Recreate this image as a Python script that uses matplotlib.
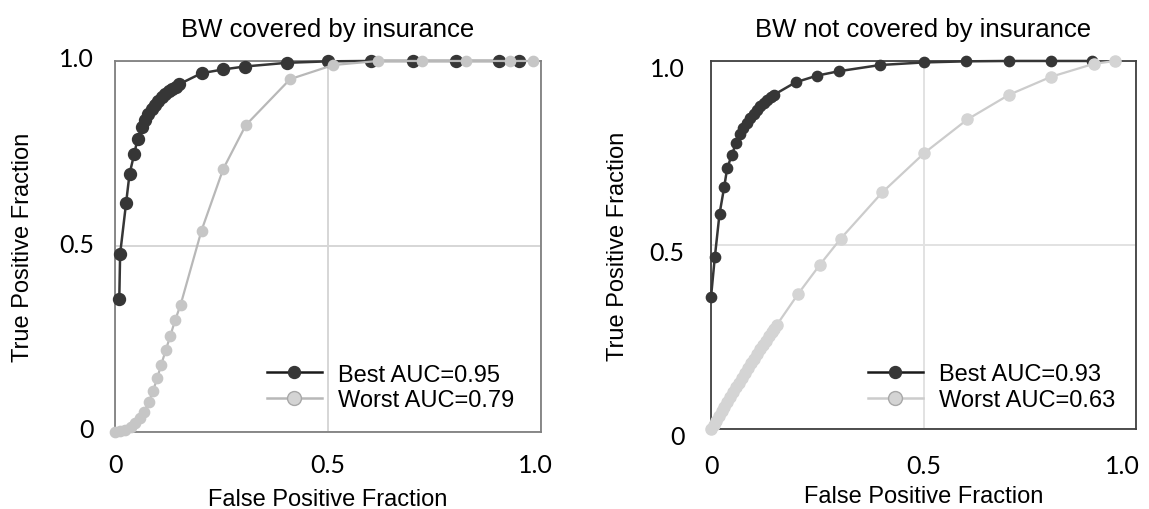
"""ROC curves of the best and worst models, BW covered / not covered by insurance."""

import matplotlib
matplotlib.use("Agg")
import matplotlib.pyplot as plt
import matplotlib.transforms as mtransforms
from matplotlib.lines import Line2D


# ---- data ----
cov_best_fpf = [0.010, 0.012, 0.026, 0.034, 0.045, 0.053, 0.063, 0.070,
                0.078, 0.086, 0.094, 0.102, 0.110, 0.118, 0.126, 0.134,
                0.142, 0.150, 0.203, 0.253, 0.304, 0.403, 0.500, 0.600,
                0.700, 0.800, 0.901, 0.948]
cov_best_tpf = [0.358, 0.480, 0.617, 0.695, 0.749, 0.790, 0.821, 0.842,
                0.857, 0.870, 0.882, 0.893, 0.903, 0.911, 0.918, 0.925,
                0.931, 0.937, 0.967, 0.977, 0.985, 0.995, 0.999, 1.0,
                1.0, 1.0, 1.0, 1.0]
cov_worst_fpf = [0.0, 0.012, 0.024, 0.037, 0.048, 0.058, 0.068, 0.079,
                 0.089, 0.099, 0.108, 0.119, 0.130, 0.141, 0.154, 0.203,
                 0.254, 0.307, 0.411, 0.512, 0.618, 0.721, 0.824, 0.927,
                 0.982]
cov_worst_tpf = [0.0, 0.002, 0.006, 0.013, 0.024, 0.038, 0.055, 0.080,
                 0.110, 0.145, 0.180, 0.220, 0.260, 0.301, 0.343, 0.543,
                 0.709, 0.827, 0.951, 0.989, 1.0, 1.0, 1.0, 1.0, 1.0]

unc_best_fpf = [0.0, 0.009, 0.020, 0.031, 0.038, 0.049, 0.059, 0.068,
                0.076, 0.084, 0.092, 0.100, 0.108, 0.116, 0.124, 0.132,
                0.140, 0.148, 0.199, 0.249, 0.300, 0.398, 0.500, 0.600,
                0.701, 0.800, 0.897]
unc_best_tpf = [0.358, 0.467, 0.584, 0.657, 0.708, 0.745, 0.777, 0.802,
                0.818, 0.832, 0.845, 0.857, 0.868, 0.878, 0.887, 0.895,
                0.902, 0.908, 0.942, 0.960, 0.972, 0.989, 0.996, 0.999,
                1.0, 1.0, 1.0]
unc_worst_fpf = [0.000, 0.006, 0.012, 0.018, 0.025, 0.031, 0.038, 0.045,
                 0.052, 0.059, 0.066, 0.073, 0.080, 0.087, 0.094, 0.101,
                 0.108, 0.115, 0.122, 0.129, 0.136, 0.143, 0.149, 0.155,
                 0.205, 0.256, 0.305, 0.403, 0.502, 0.603, 0.701, 0.800,
                 0.900, 0.951]
unc_worst_tpf = [0.000, 0.010, 0.022, 0.035, 0.048, 0.061, 0.074, 0.087,
                 0.100, 0.113, 0.126, 0.139, 0.152, 0.165, 0.178, 0.191,
                 0.204, 0.216, 0.228, 0.240, 0.252, 0.263, 0.273, 0.283,
                 0.367, 0.446, 0.517, 0.643, 0.750, 0.841, 0.908, 0.957,
                 0.992, 1.0]

titles = ["BW covered by insurance", "BW not covered by insurance"]
best_labels = ["Best AUC=0.95", "Best AUC=0.93"]
worst_labels = ["Worst AUC=0.79", "Worst AUC=0.63"]
tick_values = [0, 0.5, 1.0]
tick_labels = ["0", "0.5", "1.0"]

LABEL_FONT = "Liberation Sans"
TICK_FONT = "Lato"
DARK = "#363636"

# per-panel styling: axes rect, frame colour, grid colour, worst colours, offsets
panels = [
    dict(rect=[0.1001, 0.1510, 0.3708, 0.7275], frame="#808080",
         grid="#d6d6d6", worst_line="#b8b8b8", worst_face="#c6c6c6",
         best_ms=8.6, worst_ms=7.4, ytick_dy=4, ypad=15, xpad=15,
         last_dx=-6, ylabelpad=18, xlabelpad=9,
         leg_anchor=(0.356, 0.120)),
    dict(rect=[0.6188, 0.1569, 0.3699, 0.7216], frame="#404040",
         grid="#e2e2e2", worst_line="#cccccc", worst_face="#d4d4d4",
         best_ms=7.4, worst_ms=8.0, ytick_dy=-6, ypad=19, xpad=18,
         last_dx=-14, ylabelpad=15, xlabelpad=6,
         leg_anchor=(0.369, 0.114)),
]
curves = [
    (cov_best_fpf, cov_best_tpf, cov_worst_fpf, cov_worst_tpf),
    (unc_best_fpf, unc_best_tpf, unc_worst_fpf, unc_worst_tpf),
]

fig = plt.figure(figsize=(11.49, 5.10), dpi=100)

for i, (cfg, (bx, by, wx, wy)) in enumerate(zip(panels, curves)):
    ax = fig.add_axes(cfg["rect"])
    ax.plot(bx, by, "-o", color=DARK, lw=1.8, ms=cfg["best_ms"],
            mfc=DARK, mec=DARK, clip_on=False, zorder=3)
    ax.plot(wx, wy, "-o", color=cfg["worst_line"], lw=1.6,
            ms=cfg["worst_ms"], mfc=cfg["worst_face"],
            mec=cfg["worst_face"], clip_on=False, zorder=4)

    ax.set_xlim(0, 1)
    ax.set_ylim(0, 1)
    ax.set_xticks(tick_values)
    ax.set_yticks(tick_values)
    ax.set_xticklabels(tick_labels, fontfamily=TICK_FONT, fontsize=18)
    ax.set_yticklabels(tick_labels, fontfamily=TICK_FONT, fontsize=18)
    ax.tick_params(length=0, pad=cfg["ypad"], axis="y")
    ax.tick_params(length=0, pad=cfg["xpad"], axis="x")
    offset = mtransforms.ScaledTranslation(0, cfg["ytick_dy"] / 100,
                                           fig.dpi_scale_trans)
    for lab in ax.get_yticklabels():
        lab.set_transform(lab.get_transform() + offset)
    last = ax.get_xticklabels()[-1]
    last.set_transform(last.get_transform() + mtransforms.ScaledTranslation(
        cfg["last_dx"] / 100, 0, fig.dpi_scale_trans))

    ax.grid(True, color=cfg["grid"], lw=1.4)
    ax.set_axisbelow(True)
    for sp in ax.spines.values():
        sp.set_color(cfg["frame"])
        sp.set_linewidth(1.3)

    ax.set_title(titles[i], fontfamily=LABEL_FONT, fontsize=18.5, pad=18)
    ax.set_xlabel("False Positive Fraction", fontfamily=LABEL_FONT,
                  fontsize=17, labelpad=cfg["xlabelpad"])
    ax.set_ylabel("True Positive Fraction", fontfamily=LABEL_FONT,
                  fontsize=17, labelpad=cfg["ylabelpad"])

    handles = [
        Line2D([], [], color="#1a1a1a", lw=1.8, marker="o", ms=8.6,
               mfc=DARK, mec=DARK),
        Line2D([], [], color=cfg["worst_line"], lw=1.8, marker="o", ms=10,
               mfc="#d4d4d4", mec="#a8a8a8"),
    ]
    ax.legend(handles, [best_labels[i], worst_labels[i]], loc="center left",
              bbox_to_anchor=cfg["leg_anchor"], frameon=False, borderpad=0,
              borderaxespad=0, handlelength=2.33, handletextpad=0.68,
              labelspacing=0.15, prop={"family": LABEL_FONT, "size": 17})

fig.savefig("out.png", dpi=100)
